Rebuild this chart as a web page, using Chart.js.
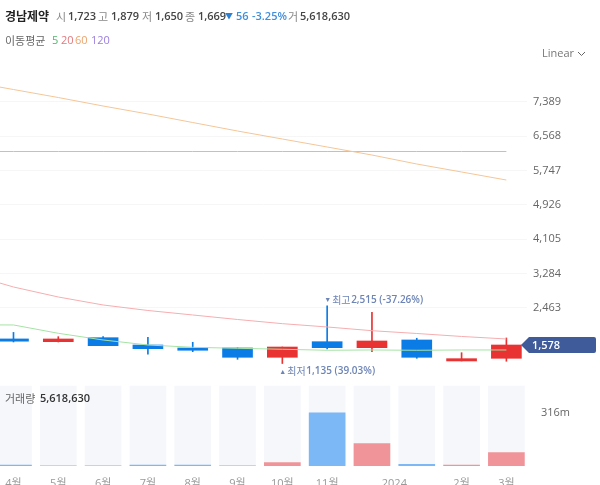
<!DOCTYPE html>
<html lang="ko">
<head>
<meta charset="utf-8">
<title>경남제약</title>
<script src="https://cdn.jsdelivr.net/npm/chart.js@4"></script>
<style>
    body { margin: 0; background: #fff; font-family: "Open Sans", "Noto Sans CJK KR", sans-serif; }
    #wrap { position: relative; width: 600px; height: 485px; overflow: hidden; }
    canvas { position: absolute; left: 0; top: 0; }
    .t { position: absolute; font-size: 11px; line-height: 16px; white-space: nowrap; color: #888; }
    .k { font-family: "Noto Sans CJK KR", sans-serif; }
    .v { font-weight: 600; color: #444; }
</style>
</head>
<body>
<div id="wrap">
    <canvas id="chart" width="600" height="485"></canvas>

    <span class="t k" style="left:5px;top:8px;font-size:12px;font-weight:700;color:#222">경남제약</span>
    <span class="t k" style="left:56px;top:8px">시</span><span class="t v" style="left:68px;top:8px">1,723</span>
    <span class="t k" style="left:98px;top:8px">고</span><span class="t v" style="left:111px;top:8px">1,879</span>
    <span class="t k" style="left:142px;top:8px">저</span><span class="t v" style="left:155px;top:8px">1,650</span>
    <span class="t k" style="left:185px;top:8px">종</span><span class="t v" style="left:198px;top:8px">1,669</span>
    <span class="t" style="left:225px;top:8px;color:#2b7fd4;font-size:8px">▼</span>
    <span class="t v" style="left:236px;top:8px;color:#3f8ede">56</span>
    <span class="t v" style="left:252px;top:8px;color:#3f8ede">-3.25%</span>
    <span class="t k" style="left:288px;top:8px">거</span><span class="t v" style="left:300px;top:8px">5,618,630</span>

    <span class="t k" style="left:5px;top:32px;color:#666">이동평균</span>
    <span class="t" style="left:52px;top:32px;color:#55b56e">5</span>
    <span class="t" style="left:61px;top:32px;color:#e2787c">20</span>
    <span class="t" style="left:75px;top:32px;color:#eba36c">60</span>
    <span class="t" style="left:91px;top:32px;color:#9a7ee0">120</span>

    <span class="t" style="left:542px;top:45px;color:#777">Linear</span>
    <svg style="position:absolute;left:577px;top:51px" width="9" height="6"><path d="M1 1 L4.5 4.5 L8 1" fill="none" stroke="#666" stroke-width="1"/></svg>

    <span class="t k" style="left:5px;top:390px;color:#666">거래량</span>
    <span class="t v" style="left:40px;top:390px;color:#333">5,618,630</span>
</div>

<script>
// 월봉 데이터
var categories = ['4월', '5월', '6월', '7월', '8월', '9월', '10월', '11월', '12월', '1월', '2월', '3월'];
var openValues = [1723, 1657, 1753, 1578, 1507, 1507, 1284, 1657, 1514, 1698, 1196, 1260];
var highValues = [1879, 1777, 1777, 1762, 1643, 1507, 1530, 2515, 2360, 1739, 1394, 1746];
var lowValues = [1650, 1650, 1562, 1356, 1418, 1236, 1135, 1483, 1418, 1260, 1196, 1189];
var closeValues = [1669, 1722, 1562, 1490, 1452, 1284, 1530, 1514, 1674, 1284, 1251, 1578];

// 거래량 (백만)
var volumeValues = [5.6, 1, 1, 5, 5, 1, 20, 316, 133, 10, 6, 79];
var volumeBackdrop = [474, 474, 474, 474, 474, 474, 474, 474, 474, 474, 474, 474];

// 이동평균선: 첫 값은 화면 왼쪽 밖의 이전 달
var ma5 = [2060, 2057, 1858, 1698, 1578, 1523, 1499, 1476, 1452, 1459, 1452, 1459, 1459];
var ma20 = [3276, 2965, 2726, 2535, 2403, 2296, 2188, 2088, 2009, 1920, 1853, 1782, 1722];
var ma60 = [7879, 7687, 7496, 7293, 7102, 6898, 6695, 6504, 6313, 6121, 5906, 5715, 5523];
var ma120 = [6205, 6205, 6205, 6205, 6205, 6205, 6205, 6205, 6205, 6205, 6205, 6205, 6205];

// 축 눈금
var priceTicks = [2463, 3284, 4105, 4926, 5747, 6568, 7389];
var volumeTicks = [316];
var monthTickPositions = [0, 1, 2, 3, 4, 5, 6, 7, 8.5, 10, 11];
var monthTickLabels = ['4월', '5월', '6월', '7월', '8월', '9월', '10월', '11월', '2024', '2월', '3월'];

var UP = '#e93232';
var DOWN = '#0b7ce6';
var UP_VOL = '#f19499';
var DOWN_VOL = '#7cb8f5';

function isUp(i) {
    return closeValues[i] >= openValues[i];
}

function maDataset(values, color) {
    return {
        type: 'line',
        data: values.map(function(v, i) { return { x: i - 1, y: v }; }),
        yAxisID: 'y',
        borderColor: color,
        borderWidth: 1,
        pointRadius: 0,
        tension: 0,
        order: 1
    };
}

// 최고/최저 표시와 현재가 태그
var markersPlugin = {
    id: 'markers',
    afterDraw: function(chart) {
        var c = chart.ctx, x = chart.scales.x, y = chart.scales.y;
        var hi = highValues.indexOf(Math.max.apply(null, highValues));
        var lo = lowValues.indexOf(Math.min.apply(null, lowValues));
        var ink = '#6d84b6';

        function label(px, py, arrow, word, rest) {
            c.textBaseline = 'middle';
            c.textAlign = 'left';
            c.fillStyle = ink;
            c.font = '7px "Open Sans"';
            c.fillText(arrow, px, py);
            c.font = '10px "Noto Sans CJK KR"';
            c.fillText(word, px + 8, py);
            c.font = '600 10px "Open Sans"';
            c.fillText(rest, px + 27, py);
        }

        label(x.getPixelForValue(hi) - 3, y.getPixelForValue(highValues[hi]) - 6, '▼', '최고', '2,515 (-37.26%)');
        label(x.getPixelForValue(lo) - 3, y.getPixelForValue(lowValues[lo]) + 8, '▲', '최저', '1,135 (39.03%)');

        var last = closeValues[closeValues.length - 1];
        var py = y.getPixelForValue(last);
        c.beginPath();
        c.moveTo(521, py);
        c.lineTo(529, py - 8);
        c.lineTo(594, py - 8);
        c.quadraticCurveTo(596, py - 8, 596, py - 6);
        c.lineTo(596, py + 6);
        c.quadraticCurveTo(596, py + 8, 594, py + 8);
        c.lineTo(529, py + 8);
        c.closePath();
        c.fillStyle = '#3f5b99';
        c.fill();
        c.fillStyle = '#fff';
        c.font = '600 11px "Open Sans"';
        c.textBaseline = 'middle';
        c.fillText(last.toLocaleString('en-US'), 532, py + 0.5);
    }
};

new Chart(document.getElementById('chart'), {
    type: 'bar',
    plugins: [markersPlugin],
    data: {
        datasets: [
            maDataset(ma5, '#a5e3a5'),
            maDataset(ma20, '#f6aeb0'),
            maDataset(ma60, '#f5c697'),
            maDataset(ma120, '#cdb2ef'),
            {
                // 캔들 몸통
                data: categories.map(function(c, i) {
                    return { x: i, y: [openValues[i], closeValues[i]] };
                }),
                yAxisID: 'y',
                grouped: false,
                barThickness: 30,
                backgroundColor: categories.map(function(c, i) { return isUp(i) ? UP : DOWN; }),
                order: 4
            },
            {
                // 캔들 꼬리
                data: categories.map(function(c, i) {
                    return { x: i, y: [lowValues[i], highValues[i]] };
                }),
                yAxisID: 'y',
                grouped: false,
                barThickness: 1,
                backgroundColor: categories.map(function(c, i) { return isUp(i) ? UP : DOWN; }),
                order: 5
            },
            {
                data: categories.map(function(c, i) { return { x: i, y: volumeValues[i] }; }),
                yAxisID: 'yVolume',
                grouped: false,
                barThickness: 36,
                backgroundColor: categories.map(function(c, i) { return isUp(i) ? UP_VOL : DOWN_VOL; }),
                order: 6
            },
            {
                data: categories.map(function(c, i) { return { x: i, y: volumeBackdrop[i] }; }),
                yAxisID: 'yVolume',
                grouped: false,
                barThickness: 36,
                backgroundColor: '#f5f7fb',
                order: 7
            }
        ]
    },
    options: {
        responsive: false,
        animation: false,
        events: [],
        layout: { padding: { top: 70, left: 0, right: 0, bottom: 0 } },
        plugins: { legend: { display: false }, tooltip: { enabled: false } },
        scales: {
            x: {
                type: 'linear',
                offset: false,
                min: -0.301,
                max: 11.46,
                grid: { display: false, offset: false },
                border: { display: false },
                afterFit: function(scale) { scale.height = 19; },
                afterBuildTicks: function(scale) {
                    scale.ticks = monthTickPositions.map(function(v) { return { value: v }; });
                },
                ticks: {
                    autoSkip: false,
                    maxRotation: 0,
                    padding: 3,
                    color: '#999',
                    font: { family: '"Open Sans", "Noto Sans CJK KR"', size: 11 },
                    callback: function(value) {
                        return monthTickLabels[monthTickPositions.indexOf(value)];
                    }
                }
            },
            y: {
                position: 'right',
                stack: 'right',
                stackWeight: 310,
                min: 741,
                max: 8154,
                grid: { color: '#f6f6f6', drawTicks: false },
                border: { display: false },
                afterFit: function(scale) { scale.width = 73; },
                afterBuildTicks: function(scale) {
                    scale.ticks = priceTicks.map(function(v) { return { value: v }; });
                },
                ticks: {
                    padding: 6,
                    color: '#666',
                    font: { family: '"Open Sans"', size: 11 },
                    callback: function(value) { return value.toLocaleString('en-US'); }
                }
            },
            yVolume: {
                position: 'right',
                stack: 'right',
                stackWeight: 86,
                min: 0,
                max: 510,
                grid: { display: false },
                border: { display: false },
                afterFit: function(scale) { scale.width = 73; },
                afterBuildTicks: function(scale) {
                    scale.ticks = volumeTicks.map(function(v) { return { value: v }; });
                },
                ticks: {
                    padding: 6,
                    color: '#666',
                    font: { family: '"Open Sans"', size: 11 },
                    callback: function(value) { return value + 'm'; }
                }
            }
        }
    }
});
</script>
</body>
</html>
